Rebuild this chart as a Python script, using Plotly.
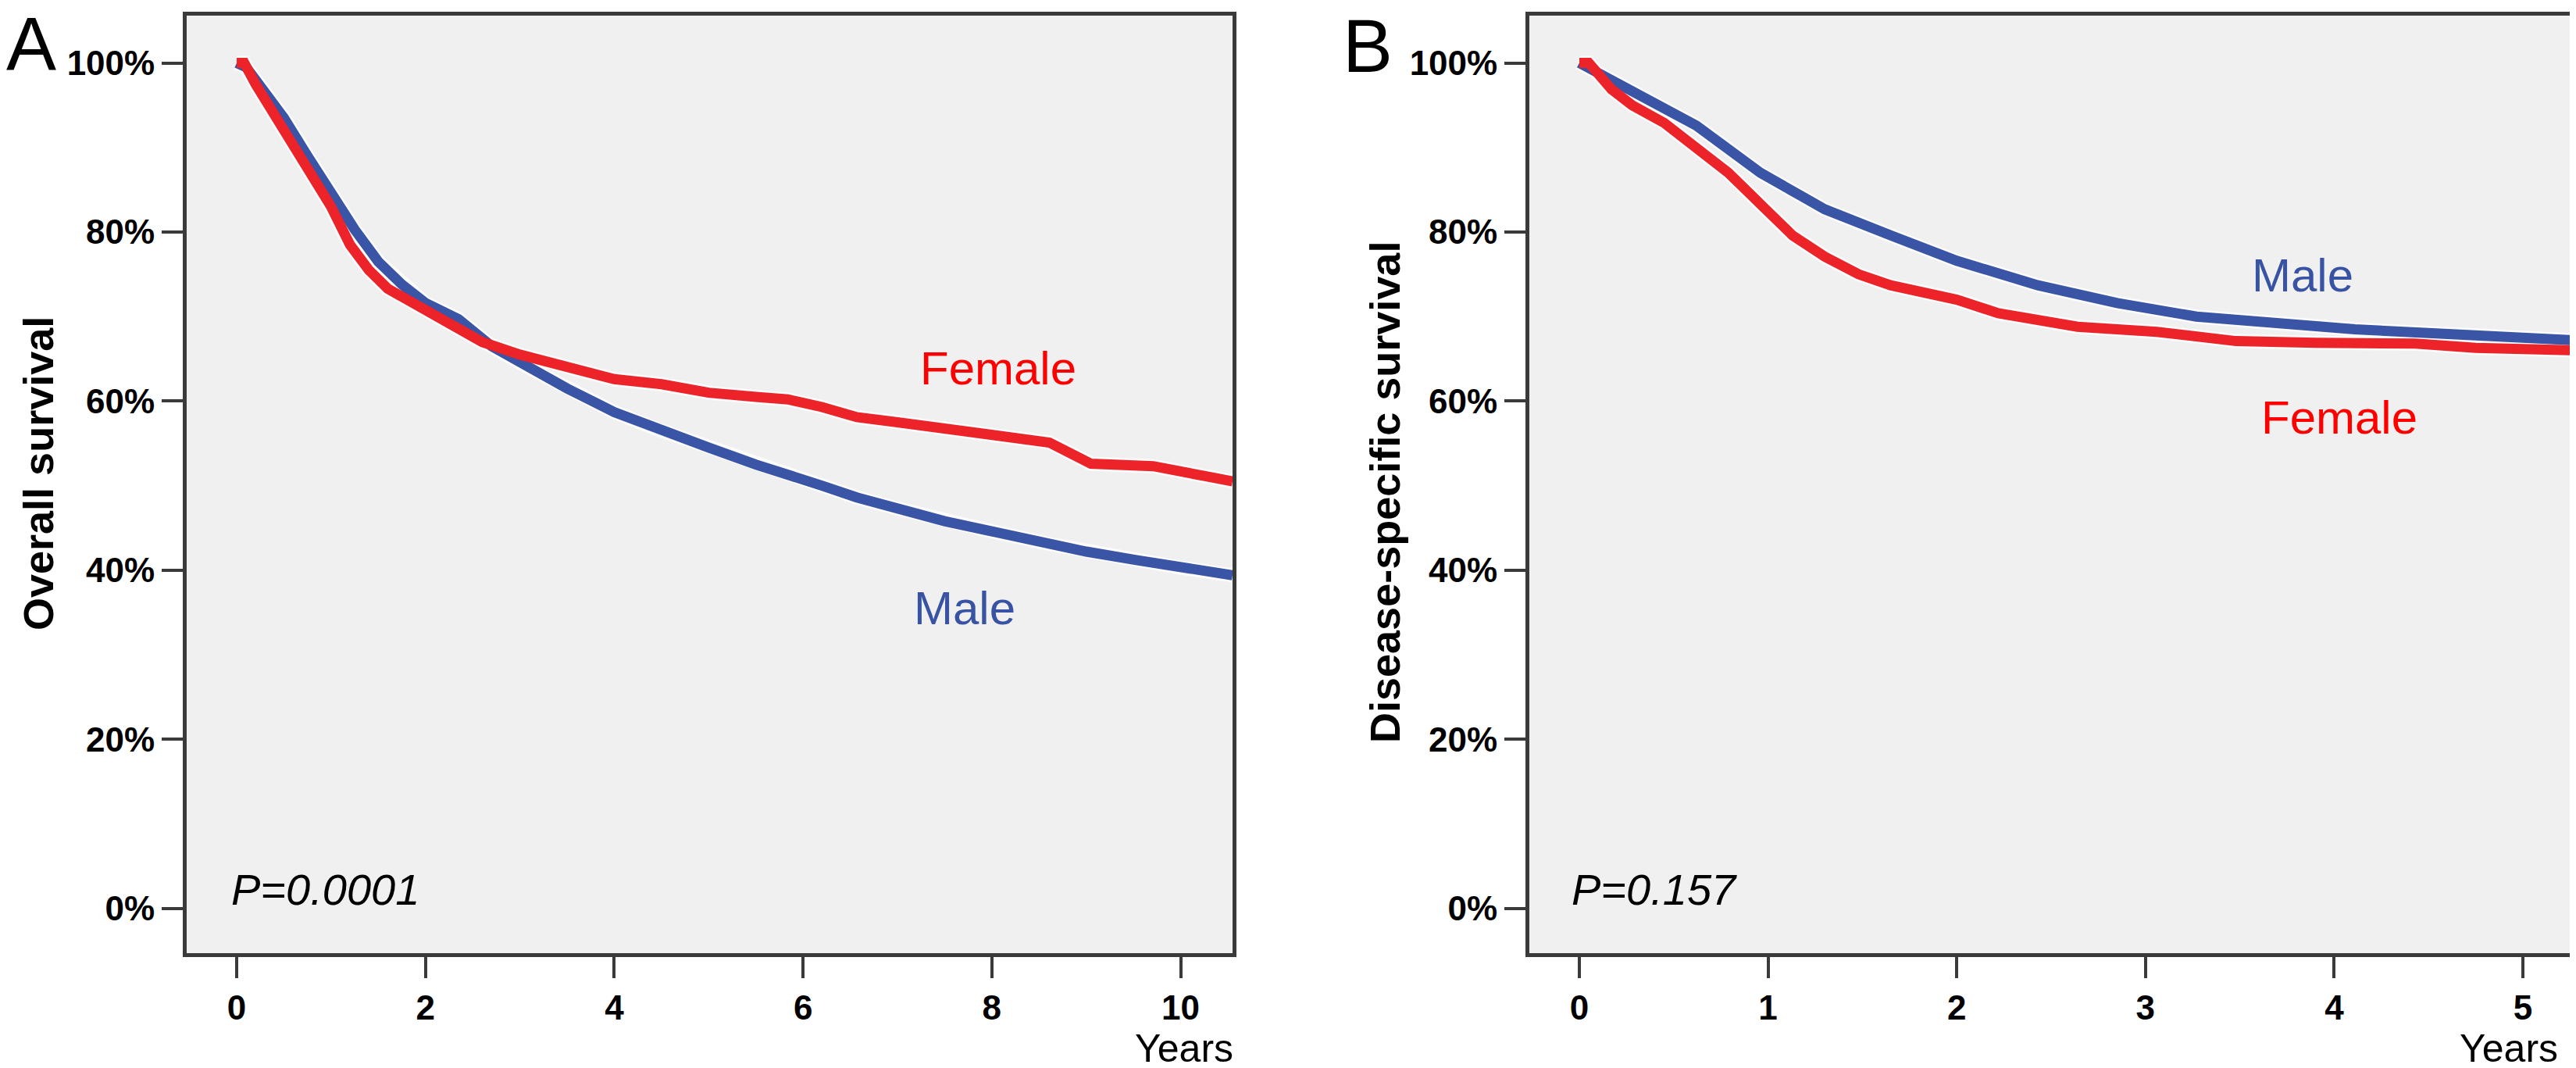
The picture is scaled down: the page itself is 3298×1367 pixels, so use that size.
import plotly.graph_objects as go

W, H = 3298, 1367

# ---------------- data ----------------
# Panel A: overall survival (%), years
os_male_t = [0, 0.1, 0.3, 0.5, 0.75, 1.0, 1.25, 1.5, 1.75, 2.0, 2.35, 2.7, 3.0, 3.5, 4.0,
             4.5, 5.0, 5.5, 5.84, 6.2, 6.57, 7.0, 7.5, 8.0, 8.61, 9.0, 9.53, 10.0, 10.55]
os_male_s = [100, 99.5, 96.5, 93.5, 89, 84.5, 80.3, 76.5, 73.8, 71.6, 69.7, 66.5, 64.5, 61.5, 58.7,
             56.5, 54.5, 52.5, 51.4, 50.0, 48.6, 47.3, 45.8, 44.6, 43.1, 42.2, 41.2, 40.3, 39.4]

os_female_t = [0, 0.08, 0.2, 0.4, 0.6, 0.8, 1.0, 1.2, 1.4, 1.6, 1.8, 2.0, 2.3, 2.6, 3.0, 3.5,
               4.0, 4.5, 5.0, 5.5, 5.84, 6.2, 6.57, 7.0, 7.5, 8.0, 8.61, 9.05, 9.71, 10.27, 10.55]
os_female_s = [100, 100, 97.5, 94, 90.5, 87, 83, 78.5, 75.5, 73.3, 72, 70.8, 69, 67, 65.5, 64,
               62.6, 62, 61, 60.5, 60.2, 59.3, 58.1, 57.5, 56.7, 55.8, 55.1, 52.6, 52.3, 51.1, 50.5]

# Panel B: disease-specific survival (%), years
dss_male_t = [0, 0.28, 0.62, 0.96, 1.30, 1.65, 2.0, 2.43, 2.85, 3.27, 3.69, 4.11, 4.54, 4.96, 5.27]
dss_male_s = [100, 96.6, 92.6, 87.0, 82.7, 79.6, 76.6, 73.7, 71.6, 70.0, 69.1, 68.5, 68.0, 67.6, 67.2]

dss_female_t = [0, 0.05, 0.17, 0.28, 0.45, 0.62, 0.79, 0.96, 1.13, 1.30, 1.48, 1.65, 2.0, 2.22,
                2.64, 3.06, 3.48, 3.90, 4.43, 4.75, 5.17, 5.27]
dss_female_s = [100, 100, 96.9, 95.0, 92.9, 90.1, 87.0, 83.3, 79.6, 77.1, 75.0, 73.7, 72.0, 70.4,
                68.8, 68.2, 67.1, 66.9, 66.8, 66.3, 66.0, 66.0]

y_ticks = [0, 20, 40, 60, 80, 100]
y_tick_labels = ["0%", "20%", "40%", "60%", "80%", "100%"]
xA_ticks = [0, 2, 4, 6, 8, 10]
xB_ticks = [0, 1, 2, 3, 4, 5]

# ---------------- styling ----------------
RED = "#EC2328"
BLUE = "#3A54A6"
AXC = "#3a3a3a"
BG = "#F0F0F0"


def px(x):
    return x / W


def py(y):
    return 1 - y / H


fig = go.Figure()

for xa, ya, series in [
    ("x", "y", [(os_female_t, os_female_s, RED), (os_male_t, os_male_s, BLUE)]),
    ("x2", "y2", [(dss_female_t, dss_female_s, RED), (dss_male_t, dss_male_s, BLUE)]),
]:
    for t, s, c in series:
        fig.add_trace(go.Scatter(x=t, y=s, mode="lines", xaxis=xa, yaxis=ya,
                                 line=dict(color="rgba(255,255,255,0.8)", width=18),
                                 hoverinfo="skip", showlegend=False))
    for t, s, c in series[::-1]:
        fig.add_trace(go.Scatter(x=t, y=s, mode="lines", xaxis=xa, yaxis=ya,
                                 line=dict(color=c, width=13),
                                 showlegend=False))

tickfont = dict(family="Liberation Sans, Arial, sans-serif", size=44, color="#000000", weight="bold")
axis_common = dict(showline=True, linecolor=AXC, linewidth=5, mirror=True,
                   ticks="outside", ticklen=27, tickwidth=4, tickcolor=AXC,
                   showgrid=False, zeroline=False, tickfont=tickfont)

yr = [-5.3, 105.6]
fig.update_layout(
    width=W, height=H,
    margin=dict(l=0, r=0, t=0, b=0),
    paper_bgcolor="white",
    plot_bgcolor=BG,
    xaxis=dict(domain=[px(231), px(1570)], range=[-0.53, 10.55], tickvals=xA_ticks,
               anchor="y", **axis_common),
    yaxis=dict(domain=[py(1212), py(12)], range=yr, tickvals=y_ticks, ticktext=y_tick_labels,
               anchor="x", **axis_common),
    xaxis2=dict(domain=[px(1950), px(3292)], range=[-0.265, 5.29], tickvals=xB_ticks,
                anchor="y2", **axis_common),
    yaxis2=dict(domain=[py(1212), py(12)], range=yr, tickvals=y_ticks, ticktext=y_tick_labels,
                anchor="x2", **axis_common),
)

base = "Liberation Sans, Arial, sans-serif"
ann = []


def A(text, x, y, size, color="#000", xanchor="center", yanchor="middle", angle=0,
      weight="normal", style="normal"):
    ann.append(dict(text=text, x=px(x), y=py(y), xref="paper", yref="paper",
                    xanchor=xanchor, yanchor=yanchor, textangle=angle, showarrow=False,
                    font=dict(family=base, size=size, color=color, weight=weight, style=style)))


A("A", 32, 48, 96)
A("B", 1743, 50, 96)
A("Overall survival", 41, 598, 54, angle=-90, weight="bold")
A("Disease-specific survival", 1765, 622, 54, angle=-90, weight="bold")
A("Years", 1573, 1334, 50, xanchor="right")
A("Years", 3269, 1334, 50, xanchor="right")
A("P=0.0001", 286, 1130, 56, xanchor="left", style="italic")
A("P=0.157", 2002, 1130, 56, xanchor="left", style="italic")
A("Female", 1270, 463, 60, color="#FF0000")
A("Male", 1227, 770, 60, color="#3953A4")
A("Male", 2940, 344, 60, color="#3953A4")
A("Female", 2987, 526, 60, color="#FF0000")

fig.update_layout(annotations=ann)
fig.write_html("out.html")
